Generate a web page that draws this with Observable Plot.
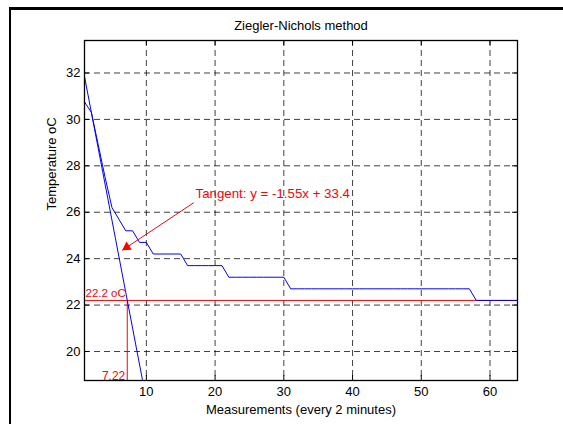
<!DOCTYPE html>
<html><head><meta charset="utf-8">
<script src="https://cdn.jsdelivr.net/npm/d3@7"></script>
<script src="https://cdn.jsdelivr.net/npm/@observablehq/plot@0.6"></script>
<style>
html,body{margin:0;padding:0;background:#fff;overflow:hidden;width:563px;height:424px}
#wrap{position:relative;width:563px;height:424px;overflow:hidden}
#chart{position:absolute;left:0;top:0}
#border{position:absolute;left:9px;top:7px;width:800px;height:800px;border-left:2.5px solid #000;border-top:3px solid #000}
</style></head><body>
<div id="wrap"><div id="chart"></div><div id="border"></div></div>
<script>
// ---- data ----
const titleText = "Ziegler-Nichols method";
const xLabel = "Measurements (every 2 minutes)";
const yLabel = "Temperature oC";
const xTicks = [10, 20, 30, 40, 50, 60];
const yTicks = [20, 22, 24, 26, 28, 30, 32];
const xDomain = [1, 64];
const yDomain = [18.75, 33.4];
// temperature per measurement (1..64)
const temperature = [
  30.75, 30.3, 28.9, 27.5, 26.2, 25.7, 25.2, 25.2, 24.7, 24.7,
  24.2, 24.2, 24.2, 24.2, 24.2,
  23.7, 23.7, 23.7, 23.7, 23.7, 23.7,
  23.2, 23.2, 23.2, 23.2, 23.2, 23.2, 23.2, 23.2, 23.2,
  22.7, 22.7, 22.7, 22.7, 22.7, 22.7, 22.7, 22.7, 22.7, 22.7,
  22.7, 22.7, 22.7, 22.7, 22.7, 22.7, 22.7, 22.7, 22.7, 22.7,
  22.7, 22.7, 22.7, 22.7, 22.7, 22.7, 22.7,
  22.2, 22.2, 22.2, 22.2, 22.2, 22.2, 22.2
];
const measurement = temperature.map((d, i) => i + 1);
const tangentSlope = -1.55;
const tangentIntercept = 33.4;
const tangentX = [1, 11];
const levelTemp = 22.2;     // horizontal red line
const levelX = 7.22;        // vertical red line
const tangentLabel = "Tangent: y = -1.55x + 33.4";
const tangentLabelPos = {x: 17.15, y: 26.63};
const arrowFrom = {x: 16.9, y: 26.41};
const arrowTo = {x: 6.48, y: 24.36};
const levelLabel = "22.2 oC";
const xLevelLabel = "7.22";

// ---- layout ----
const W = 563, H = 424, mL = 84, mR = 46, mT = 40, mB = 44;
const fw = W - mL - mR, fh = H - mT - mB;
const tickLen = 5;

const series = measurement.map((x, i) => ({x, y: temperature[i]}));
const tangent = tangentX.map(x => ({x, y: tangentSlope * x + tangentIntercept}));
const gridStyle = {stroke: "#000", strokeOpacity: 0.75, strokeDasharray: "6,4"};

// arrowhead geometry in pixels (from scales)
const sx = fw / (xDomain[1] - xDomain[0]);
const sy = fh / (yDomain[1] - yDomain[0]);
const vx = (arrowTo.x - arrowFrom.x) * sx, vy = -(arrowTo.y - arrowFrom.y) * sy;
const vlen = Math.hypot(vx, vy);
const ux = vx / vlen, uy = vy / vlen;
const headR = 3.6;
const tipDist = 2 * Math.sqrt(headR * headR * Math.PI / (3 * Math.sqrt(3)));
const headRotate = Math.atan2(ux, -uy) * 180 / Math.PI;

const chart = Plot.plot({
  width: W, height: H,
  marginLeft: mL, marginRight: mR, marginTop: mT, marginBottom: mB,
  style: {background: "transparent", fontFamily: "'Liberation Sans', Arial, sans-serif", fontSize: "13px", color: "#000"},
  x: {domain: xDomain, ticks: xTicks},
  y: {domain: yDomain, ticks: yTicks},
  marks: [
    Plot.gridX(xTicks, gridStyle),
    Plot.gridY(yTicks, gridStyle),
    Plot.ruleY([levelTemp], {stroke: "#ff0000", strokeWidth: 1}),
    Plot.ruleX([levelX], {y1: yDomain[0], y2: levelTemp, stroke: "#ff0000", strokeWidth: 1}),
    Plot.line(tangent, {x: "x", y: "y", stroke: "#0000ff", strokeWidth: 1, clip: true}),
    Plot.line(series, {x: "x", y: "y", stroke: "#0000ff", strokeWidth: 1}),
    Plot.link([{a: arrowFrom, b: arrowTo}], {x1: d => d.a.x, y1: d => d.a.y, x2: d => d.b.x, y2: d => d.b.y,
      stroke: "#ff0000", strokeWidth: 1}),
    Plot.dot([arrowTo], {x: "x", y: "y", symbol: "triangle", r: headR, fill: "#ff0000", stroke: "none",
      rotate: headRotate, dx: -ux * tipDist, dy: -uy * tipDist}),
    Plot.text([tangentLabel], {x: tangentLabelPos.x, y: tangentLabelPos.y, text: d => d, textAnchor: "start",
      lineAnchor: "bottom", fill: "#ff0000", fontSize: 13.3}),
    Plot.text([levelLabel], {x: xDomain[0], y: levelTemp, text: d => d, textAnchor: "start", lineAnchor: "bottom",
      dx: 1, dy: -3, fill: "#ff0000", fontSize: 11.5}),
    Plot.text([xLevelLabel], {x: levelX, y: yDomain[0], text: d => d, textAnchor: "end", lineAnchor: "bottom",
      dx: -2, dy: -1, fill: "#ff0000", fontSize: 12}),
    Plot.tickX(xTicks, {x: d => d, insetTop: fh - tickLen, stroke: "#000"}),
    Plot.tickX(xTicks, {x: d => d, insetBottom: fh - tickLen, stroke: "#000"}),
    Plot.tickY(yTicks, {y: d => d, insetRight: fw - tickLen, stroke: "#000"}),
    Plot.tickY(yTicks, {y: d => d, insetLeft: fw - tickLen, stroke: "#000"}),
    Plot.frame({stroke: "#000", strokeWidth: 1.3}),
    Plot.axisX(xTicks, {tickSize: 0, tickPadding: 6, label: null, fontSize: 13}),
    Plot.axisY(yTicks, {tickSize: 0, tickPadding: 4, label: null, fontSize: 13}),
    Plot.text([titleText], {frameAnchor: "top", dy: -11, lineAnchor: "bottom", text: d => d, fontSize: 13}),
    Plot.text([xLabel], {frameAnchor: "bottom", dy: 33, lineAnchor: "bottom", text: d => d, fontSize: 13}),
    Plot.text([yLabel], {frameAnchor: "left", dx: -33, rotate: -90, text: d => d, fontSize: 13})
  ]
});
document.getElementById("chart").appendChild(chart);
</script>
</body></html>
